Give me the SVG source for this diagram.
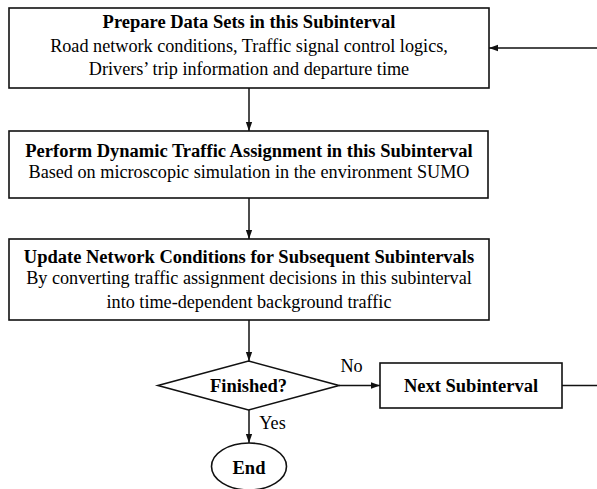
<svg xmlns="http://www.w3.org/2000/svg" width="597" height="489" viewBox="0 0 597 489">
<defs>
<style>
.box{fill:#fff;stroke:#111;stroke-width:1.6}
.ln{fill:none;stroke:#111;stroke-width:1.5}
text{font-family:"Liberation Serif","Times New Roman",serif;font-size:18.2px;fill:#000;text-anchor:middle}
.b{font-weight:bold;font-size:18.5px}
</style>
<marker id="ah" viewBox="0 0 10 10" refX="10" refY="5" markerWidth="9" markerHeight="9" markerUnits="userSpaceOnUse" orient="auto">
<path d="M0,1.5 L10,5 L0,8.5 Z" fill="#111"/>
</marker>
</defs>
<g id="connectors">
<line class="ln" x1="249" y1="88" x2="249" y2="131" marker-end="url(#ah)"/>
<line class="ln" x1="249" y1="198" x2="249" y2="239" marker-end="url(#ah)"/>
<line class="ln" x1="249" y1="320" x2="249" y2="361" marker-end="url(#ah)"/>
<line class="ln" x1="339" y1="385.5" x2="380" y2="385.5" marker-end="url(#ah)"/>
<line class="ln" x1="249" y1="410" x2="249" y2="443" marker-end="url(#ah)"/>
<path class="ln" d="M562,385.5 H600 V48 H489" marker-end="url(#ah)"/>
<text x="351.5" y="372">No</text>
<text x="272.5" y="429">Yes</text>
</g>
<g id="prepare">
<rect class="box" x="9" y="8" width="480" height="80"/>
<text class="b" x="249" y="28">Prepare Data Sets in this Subinterval</text>
<text x="249" y="52">Road network conditions, Traffic signal control logics,</text>
<text x="249" y="75">Drivers’ trip information and departure time</text>
</g>
<g id="perform">
<rect class="box" x="9" y="131" width="479" height="67"/>
<text class="b" x="249" y="157">Perform Dynamic Traffic Assignment in this Subinterval</text>
<text x="249" y="178">Based on microscopic simulation in the environment SUMO</text>
</g>
<g id="update">
<rect class="box" x="9" y="239" width="480" height="81"/>
<text class="b" x="249" y="263">Update Network Conditions for Subsequent Subintervals</text>
<text x="249" y="284">By converting traffic assignment decisions in this subinterval</text>
<text x="249" y="308">into time-dependent background traffic</text>
</g>
<g id="finished">
<polygon class="box" points="248.5,361 339,385.5 248.5,410 158,385.5"/>
<text class="b" x="248.5" y="392">Finished?</text>
</g>
<g id="next">
<rect class="box" x="380" y="363" width="182" height="45"/>
<text class="b" x="471" y="392">Next Subinterval</text>
</g>
<g id="end">
<ellipse class="box" cx="249" cy="466.5" rx="37.5" ry="23.5"/>
<text class="b" x="249" y="474">End</text>
</g>
</svg>
